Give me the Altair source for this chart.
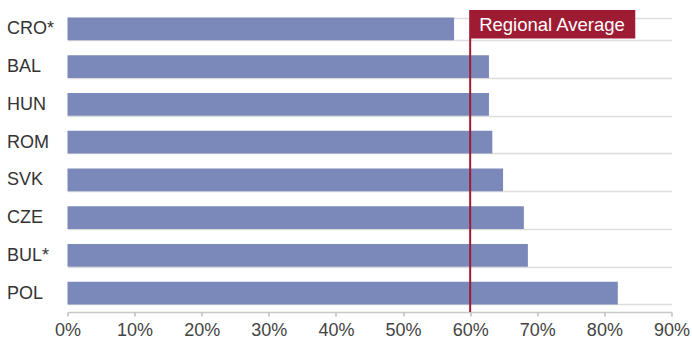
import altair as alt
import pandas as pd

countries = ["CRO*", "BAL", "HUN", "ROM", "SVK", "CZE", "BUL*", "POL"]
values = [57.6, 62.8, 62.8, 63.3, 64.9, 68.0, 68.6, 82.0]
regional_average = 60.0
label_box_end = 84.6
x_ticks = [0, 10, 20, 30, 40, 50, 60, 70, 80, 90]

df = pd.DataFrame({"country": countries, "value": values})

FONT = "Liberation Sans"
BAR = "#7b89ba"
RED = "#9e1c33"

x_scale = alt.Scale(domain=[0, 90], nice=False, zero=True)
y_scale = alt.Scale(domain=countries, paddingInner=0.4, paddingOuter=0.2)

bars = alt.Chart(df).mark_bar(color=BAR).encode(
    x=alt.X("value:Q", scale=x_scale,
            axis=alt.Axis(values=x_ticks, labelExpr="datum.value + '%'", title=None,
                          grid=False, domainColor="#c8c8c8", domainWidth=1.5,
                          tickColor="#999999", tickSize=4, tickWidth=1,
                          labelColor="#444444", labelFont=FONT, labelFontSize=18,
                          labelPadding=5, labelFlush=False)),
    y=alt.Y("country:N", scale=y_scale, sort=countries,
            axis=alt.Axis(title=None, domain=False, ticks=False, grid=True,
                          tickBand="extent", gridColor="#dddddd", gridWidth=1.5,
                          labelAlign="left", labelPadding=61, labelColor="#333333",
                          labelFont=FONT, labelFontSize=18)),
)

avg_df = pd.DataFrame({"avg": [regional_average], "end": [label_box_end],
                       "label": ["Regional Average"]})

rule = alt.Chart(avg_df).mark_rule(color=RED, strokeWidth=2).encode(
    x=alt.X("avg:Q", scale=x_scale),
    y=alt.value(0), y2=alt.value(302),
)

box = alt.Chart(avg_df).mark_rect(color=RED).encode(
    x=alt.X("avg:Q", scale=x_scale), x2="end:Q",
    y=alt.value(0), y2=alt.value(28.5),
)

text = alt.Chart(avg_df).mark_text(color="white", font=FONT, fontSize=18.5,
                                   align="left", baseline="middle", dx=9).encode(
    x=alt.X("avg:Q", scale=x_scale),
    y=alt.value(15),
    text="label:N",
)

chart = alt.layer(bars, rule, box, text).properties(
    width=604, height=302,
    background="white",
    autosize=alt.AutoSizeParams(type="none"),
    padding={"left": 67.5, "top": 10, "right": 20.5, "bottom": 31},
).configure_view(stroke=None).configure_axisX(grid=False)

chart.save("out.html", embed_options={"renderer": "svg", "actions": False})
